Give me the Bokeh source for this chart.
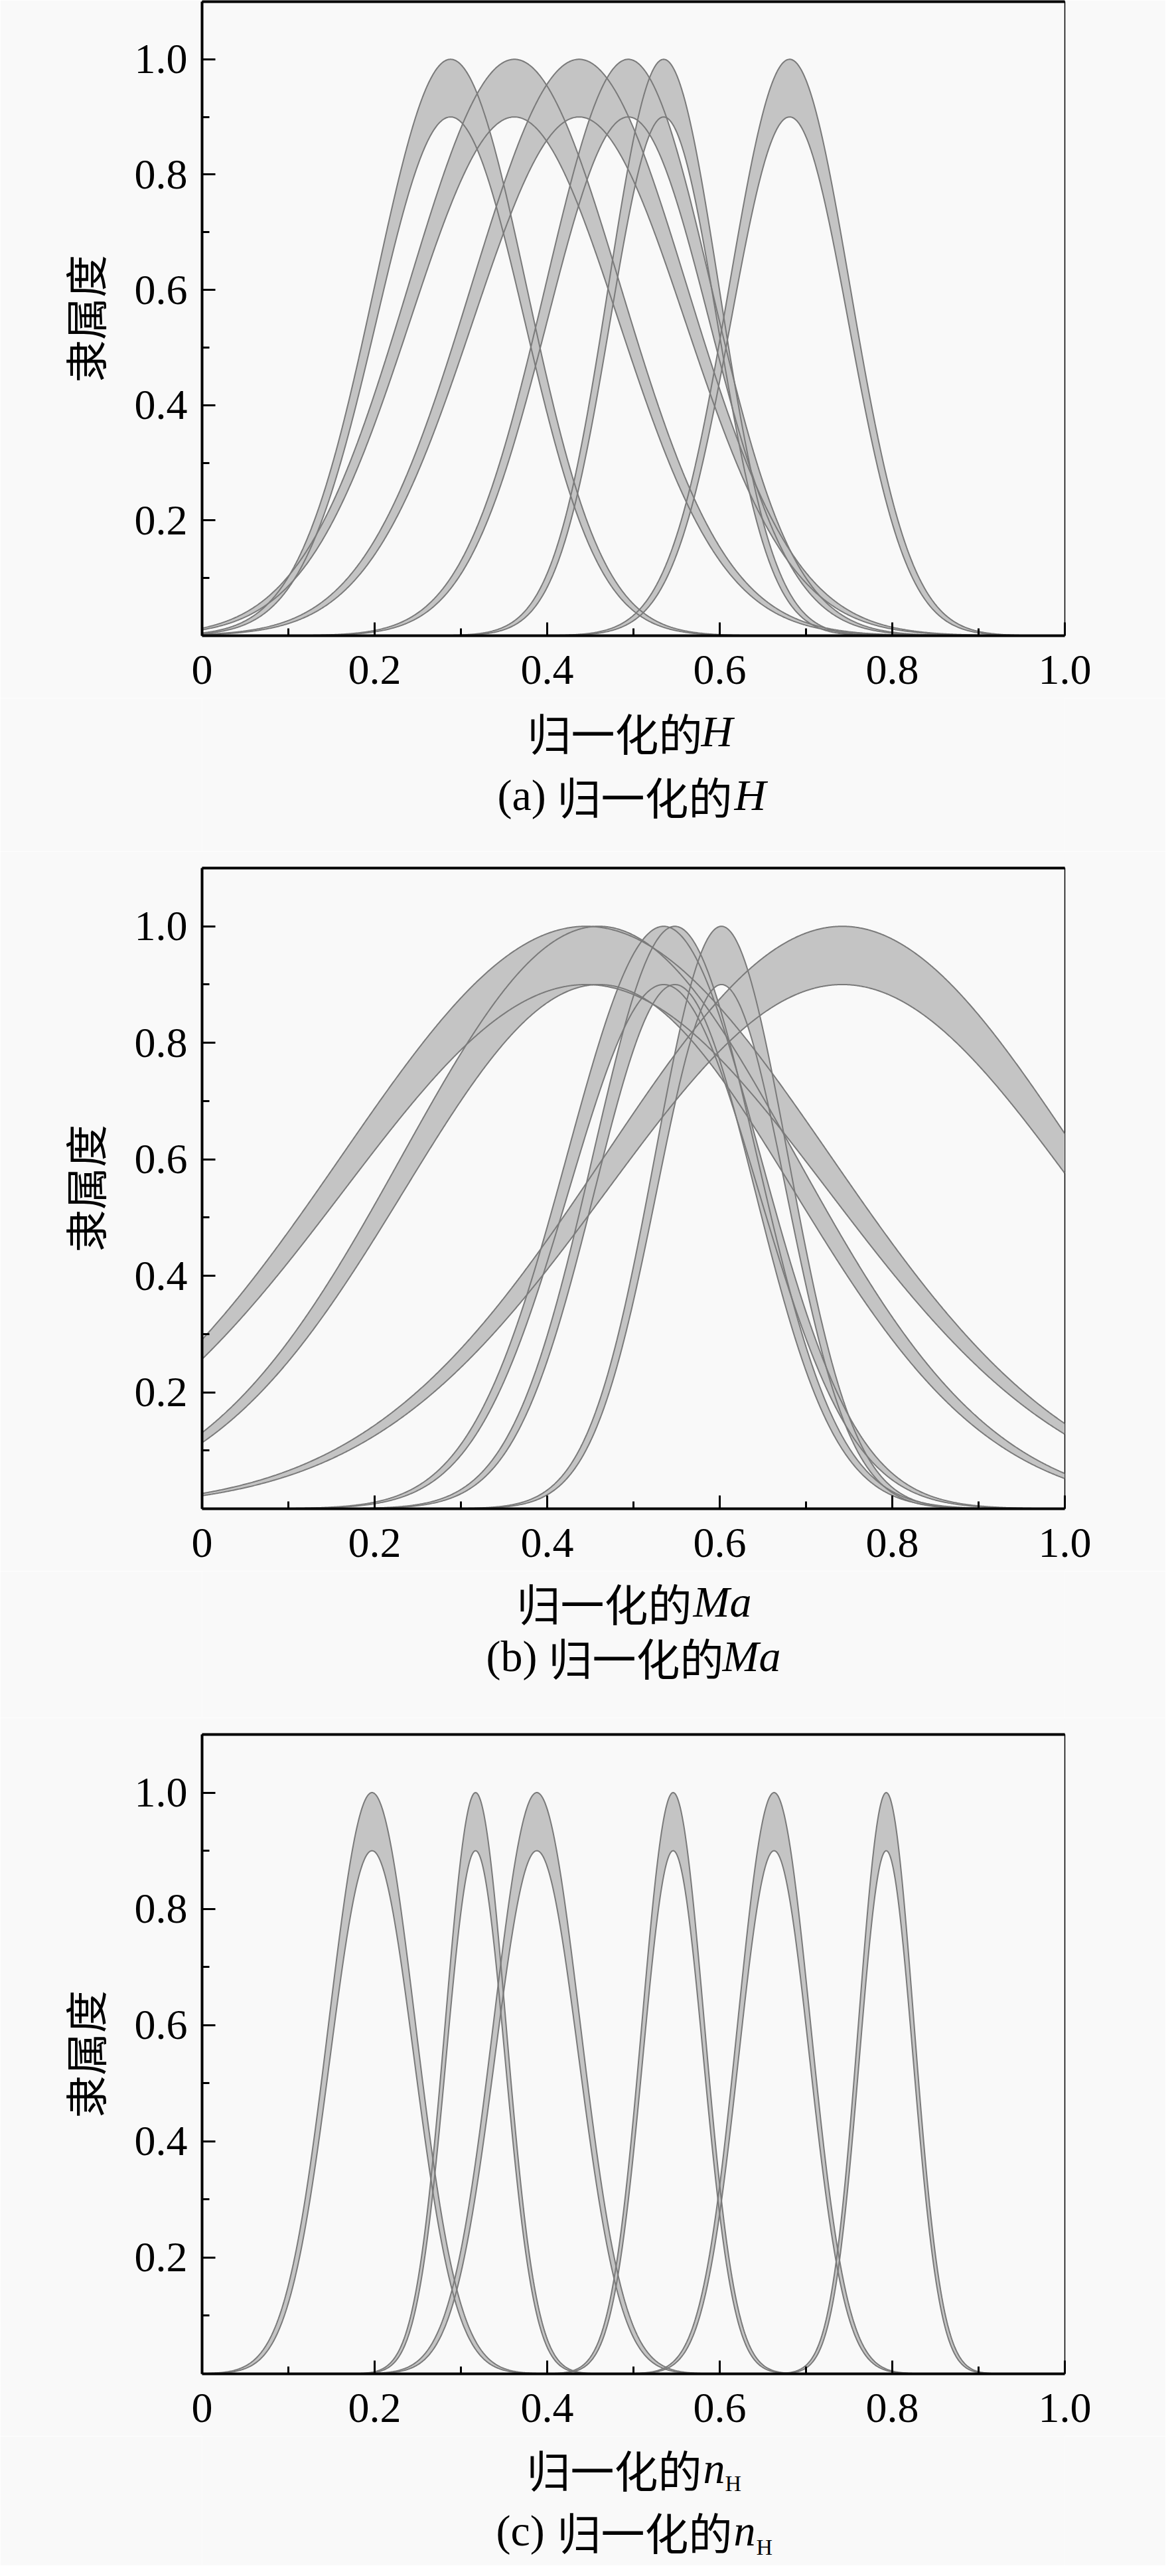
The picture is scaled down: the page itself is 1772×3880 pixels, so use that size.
import numpy as np
from bokeh.plotting import figure
from bokeh.models import Range1d, FixedTicker, LinearAxis, Label, ColumnDataSource
from bokeh.layouts import column
from bokeh.embed import file_html
from bokeh.resources import INLINE

# ---------------- data ----------------
# interval type-2 Gaussian membership functions: centre, sigma of upper MF, sigma of lower MF
H_centers = [0.288, 0.362, 0.437, 0.494, 0.535, 0.681]
H_sigma_upper = [0.088, 0.123, 0.125, 0.096, 0.064, 0.070]
H_sigma_lower = [0.086, 0.121, 0.123, 0.094, 0.062, 0.068]

Ma_centers = [0.445, 0.460, 0.535, 0.548, 0.602, 0.742]
Ma_sigma_upper = [0.283, 0.228, 0.112, 0.095, 0.077, 0.275]
Ma_sigma_lower = [0.281, 0.226, 0.110, 0.093, 0.075, 0.273]

nH_centers = [0.197, 0.317, 0.388, 0.546, 0.663, 0.793]
nH_sigma_upper = [0.050, 0.035, 0.050, 0.036, 0.042, 0.032]
nH_sigma_lower = [0.0485, 0.034, 0.0485, 0.035, 0.041, 0.031]

upper_peak = 1.0
lower_peak = 0.9

x_tick_values = [0, 0.2, 0.4, 0.6, 0.8, 1.0]
x_tick_labels = ["0", "0.2", "0.4", "0.6", "0.8", "1.0"]
x_minor_ticks = [0.1, 0.3, 0.5, 0.7, 0.9]
y_tick_values = [0.2, 0.4, 0.6, 0.8, 1.0]
y_tick_labels = ["0.2", "0.4", "0.6", "0.8", "1.0"]
y_minor_ticks = [0.1, 0.3, 0.5, 0.7, 0.9]
y_axis_title = "隶属度"

xlabel_a = ["归一化的", "H"]
caption_a = ["(a)", "归一化的", "H"]
xlabel_b = ["归一化的", "Ma"]
caption_b = ["(b)", "归一化的", "Ma"]
xlabel_c = ["归一化的", "n", "H"]
caption_c = ["(c)", "归一化的", "n", "H"]

# ---------------- style / geometry ----------------
BG = "#f9f9f9"
FILL = "#c4c4c4"
EDGE = "#7a7a7a"
LATIN = "Liberation Serif"
CJK = "Noto Sans CJK SC"
FIG_W = 1756
BORDER_L = 304
FRAME_W = 1300
BORDER_R = FIG_W - BORDER_L - FRAME_W
BORDER_B = 94


def key(v):
    return int(v) if float(v).is_integer() else v


def make_panel(centers, s_up, s_lo, border_top, frame_h):
    p = figure(width=FIG_W, height=border_top + frame_h + BORDER_B,
               x_range=Range1d(0, 1), y_range=Range1d(0, 1.1),
               output_backend="svg", toolbar_location=None, title=None,
               min_border_left=BORDER_L, min_border_right=BORDER_R,
               min_border_top=border_top, min_border_bottom=BORDER_B,
               background_fill_color=BG, border_fill_color=BG,
               outline_line_color="black", outline_line_width=1.5)
    p.grid.visible = False

    xs = np.linspace(0, 1, 1201)
    curves = []
    for m, su, sl in zip(centers, s_up, s_lo):
        up = upper_peak * np.exp(-(xs - m) ** 2 / (2 * su ** 2))
        lo = lower_peak * np.exp(-(xs - m) ** 2 / (2 * sl ** 2))
        curves.append(ColumnDataSource(dict(x=xs, up=up, lo=lo)))
    for src in curves:
        p.varea(x="x", y1="lo", y2="up", source=src, fill_color=FILL)
    for src in curves:
        p.line(x="x", y="up", source=src, line_color=EDGE, line_width=2)
        p.line(x="x", y="lo", source=src, line_color=EDGE, line_width=2)

    xa = p.xaxis[0]
    xa.ticker = FixedTicker(ticks=x_tick_values, minor_ticks=x_minor_ticks)
    xa.major_label_overrides = {key(v): t for v, t in zip(x_tick_values, x_tick_labels)}
    xa.major_label_standoff = 30
    ya = p.yaxis[0]
    ya.ticker = FixedTicker(ticks=y_tick_values, minor_ticks=y_minor_ticks)
    ya.major_label_overrides = {key(v): t for v, t in zip(y_tick_values, y_tick_labels)}
    ya.major_label_standoff = 22
    for ax in (xa, ya):
        ax.axis_line_width = 4
        ax.axis_line_color = "black"
        ax.major_tick_in = 20
        ax.major_tick_out = 0
        ax.minor_tick_in = 11
        ax.minor_tick_out = 0
        ax.major_tick_line_width = 3
        ax.minor_tick_line_width = 3
        ax.major_tick_line_color = "black"
        ax.minor_tick_line_color = "black"
        ax.major_label_text_font = LATIN
        ax.major_label_text_font_size = "64px"
        ax.major_label_text_color = "black"
    ya.axis_label = y_axis_title
    ya.axis_label_text_font = CJK
    ya.axis_label_text_font_style = "normal"
    ya.axis_label_text_font_size = "64px"
    ya.axis_label_text_color = "black"
    ya.axis_label_standoff = 28

    top = LinearAxis(ticker=FixedTicker(ticks=[]), major_label_text_font_size="0px",
                     axis_line_width=4, axis_line_color="black",
                     major_tick_in=0, major_tick_out=0, minor_tick_in=0, minor_tick_out=0)
    p.add_layout(top, "above")
    return p


def make_caption(height, parts):
    # text strip under a panel; its frame is aligned with the panel frame (x 0..1)
    c = figure(width=FIG_W, height=height, x_range=Range1d(0, 1),
               y_range=Range1d(height, 0), x_axis_type=None, y_axis_type=None,
               output_backend="svg", toolbar_location=None, title=None,
               min_border_left=BORDER_L, min_border_right=BORDER_R,
               min_border_top=0, min_border_bottom=0, outline_line_color=None,
               background_fill_color=BG, border_fill_color=BG)
    c.grid.visible = False
    for text, font, style, size, dx, base in parts:
        c.add_layout(Label(x=0.5, y=base, x_offset=dx, text=text,
                           text_font=font, text_font_style=style,
                           text_font_size=f"{size}px", text_color="black",
                           text_align="left", text_baseline="alphabetic"))
    return c


# (text, font, style, size px, x offset from frame centre px, y in strip px)
parts_a = [
    (xlabel_a[0], CJK, "normal", 66, -160, 50),
    (xlabel_a[1], LATIN, "italic", 66, 102, 50),
    (caption_a[0], LATIN, "normal", 66, -205, 146),
    (caption_a[1], CJK, "normal", 66, -115, 146),
    (caption_a[2], LATIN, "italic", 66, 152, 146),
]
parts_b = [
    (xlabel_b[0], CJK, "normal", 66, -176, 46),
    (xlabel_b[1], LATIN, "italic", 66, 90, 46),
    (caption_b[0], LATIN, "normal", 66, -222, 128),
    (caption_b[1], CJK, "normal", 66, -128, 128),
    (caption_b[2], LATIN, "italic", 66, 134, 128),
]
parts_c = [
    (xlabel_c[0], CJK, "normal", 66, -161, 48),
    (xlabel_c[1], LATIN, "italic", 66, 105, 48),
    (xlabel_c[2], LATIN, "normal", 34, 138, 71),
    (caption_c[0], LATIN, "normal", 66, -207, 142),
    (caption_c[1], CJK, "normal", 66, -115, 142),
    (caption_c[2], LATIN, "italic", 66, 151, 142),
    (caption_c[3], LATIN, "normal", 34, 185, 167),
]

pa = make_panel(H_centers, H_sigma_upper, H_sigma_lower, 2, 955)      # 1051
ca = make_caption(231, parts_a)
pb = make_panel(Ma_centers, Ma_sigma_upper, Ma_sigma_lower, 25, 965)  # 1084
cb = make_caption(221, parts_b)
pc = make_panel(nH_centers, nH_sigma_upper, nH_sigma_lower, 25, 963)  # 1082
cc = make_caption(195, parts_c)

layout = column(pa, ca, pb, cb, pc, cc, spacing=0)
open("out.html", "w").write(file_html(layout, INLINE, title="membership functions"))
